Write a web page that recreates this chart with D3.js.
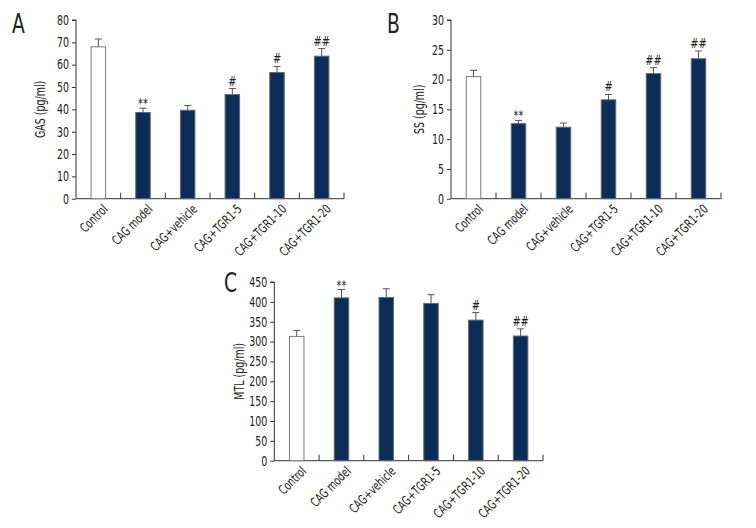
<!DOCTYPE html>
<html>
<head>
<meta charset="utf-8">
<script src="https://cdn.jsdelivr.net/npm/d3@7"></script>
<style>
  html, body { margin: 0; padding: 0; background: #fff; }
  svg text { font-family: "Liberation Sans Narrow", "DejaVu Sans Condensed", "Roboto Condensed", sans-serif; fill: #222; }
</style>
</head>
<body>
<svg id="chart" width="756" height="528"></svg>
<script>
const categories = ["Control", "CAG model", "CAG+vehicle", "CAG+TGR1-5", "CAG+TGR1-10", "CAG+TGR1-20"];

const gasValues = [68.0, 38.6, 39.6, 46.6, 56.5, 63.8];
const gasErrors = [3.5, 1.9, 2.1, 2.7, 2.7, 3.4];
const gasMarks  = ["", "**", "", "#", "#", "##"];
const gasTicks  = [0, 10, 20, 30, 40, 50, 60, 70, 80];

const ssValues = [20.5, 12.6, 12.0, 16.6, 21.0, 23.5];
const ssErrors = [1.05, 0.55, 0.7, 0.9, 1.0, 1.3];
const ssMarks  = ["", "**", "", "#", "##", "##"];
const ssTicks  = [0, 5, 10, 15, 20, 25, 30];

const mtlValues = [313, 410, 411, 396, 354, 314];
const mtlErrors = [15, 21, 22, 22, 19, 18];
const mtlMarks  = ["", "**", "", "", "#", "##"];
const mtlTicks  = [0, 50, 100, 150, 200, 250, 300, 350, 400, 450];

const SX = 0.78; // horizontal compression to mimic a condensed face

const svg = d3.select("#chart");

function drawPanel(opt) {
  const g = svg.append("g");
  const x = d3.scaleBand().domain(categories).range([opt.x0, opt.x1]);
  const y = d3.scaleLinear().domain([0, opt.max]).range([opt.y0, opt.y1]);
  const barW = 14.5;

  // y axis
  const yAxis = d3.axisLeft(y).tickValues(opt.ticks).tickSize(4).tickPadding(3);
  const ya = g.append("g").attr("transform", `translate(${opt.x0},0)`).call(yAxis);
  ya.selectAll("path, line").attr("stroke", "#333").attr("stroke-width", 1);
  ya.select(".domain").attr("d", `M-4,${opt.y1}H0V${opt.y0}`);
  ya.selectAll("text")
    .attr("x", 0)
    .attr("transform", `translate(-7,0) scale(${SX},1)`)
    .style("font-size", "13.5px").attr("fill", "#222");

  // x axis line with inward ticks at band boundaries
  g.append("line").attr("x1", opt.x0).attr("x2", opt.x1)
    .attr("y1", opt.y0).attr("y2", opt.y0).attr("stroke", "#333");
  g.selectAll("line.xt").data(categories).enter().append("line")
    .attr("class", "xt")
    .attr("x1", d => x(d) + x.bandwidth()).attr("x2", d => x(d) + x.bandwidth())
    .attr("y1", opt.y0).attr("y2", opt.y0 - 6).attr("stroke", "#333");

  // bars
  g.selectAll("rect.bar").data(opt.values).enter().append("rect")
    .attr("class", "bar")
    .attr("x", (d, i) => x(categories[i]) + x.bandwidth() / 2 - barW / 2)
    .attr("y", d => y(d))
    .attr("width", barW)
    .attr("height", d => opt.y0 - y(d))
    .attr("fill", (d, i) => i === 0 ? "#ffffff" : "#0c2d58")
    .attr("stroke", (d, i) => i === 0 ? "#7a7a7a" : "#5f6b7a")
    .attr("stroke-width", 1);

  // error bars
  opt.values.forEach((v, i) => {
    const cx = x(categories[i]) + x.bandwidth() / 2;
    const top = y(v + opt.errors[i]);
    g.append("line").attr("x1", cx).attr("x2", cx).attr("y1", y(v)).attr("y2", top)
      .attr("stroke", "#555").attr("stroke-width", 1);
    g.append("line").attr("x1", cx - 3.5).attr("x2", cx + 3.5).attr("y1", top).attr("y2", top)
      .attr("stroke", "#555").attr("stroke-width", 1);
    if (opt.marks[i]) {
      const isStar = opt.marks[i].indexOf("*") >= 0;
      g.append("text")
        .attr("transform", `translate(${cx},${top - (isStar ? 0 : 3)}) scale(${SX},1)`)
        .attr("text-anchor", "middle")
        .style("font-size", "14px")
        .attr("fill", isStar ? "#444" : "#222")
        .text(opt.marks[i]);
    }
  });

  // category labels
  categories.forEach(c => {
    const cx = x(c) + x.bandwidth() / 2 + 7;
    const cy = opt.y0 + 8;
    g.append("text")
      .attr("transform", `translate(${cx},${cy}) rotate(-45) scale(${SX},1)`)
      .attr("text-anchor", "end")
      .attr("dy", "0.35em")
      .style("font-size", "13px")
      .text(c);
  });

  // y label
  g.append("text")
    .attr("transform", `translate(${opt.ylabX},${(opt.y0 + opt.y1) / 2}) rotate(-90) scale(${SX},1)`)
    .attr("text-anchor", "middle")
    .attr("dy", "0.35em")
    .style("font-size", "13.5px")
    .text(opt.ylabel);

  // panel letter
  g.append("text")
    .attr("transform", `translate(${opt.lx},${opt.ly}) scale(0.8,1)`)
    .style("font-size", "26px")
    .text(opt.letter);
}

drawPanel({ x0: 76, x1: 344, y0: 198.7, y1: 20, max: 80, ticks: gasTicks,
  values: gasValues, errors: gasErrors, marks: gasMarks,
  ylabel: "GAS (pg/ml)", ylabX: 40, letter: "A", lx: 12, ly: 33 });

drawPanel({ x0: 451, x1: 721, y0: 198.7, y1: 20, max: 30, ticks: ssTicks,
  values: ssValues, errors: ssErrors, marks: ssMarks,
  ylabel: "SS (pg/ml)", ylabX: 419, letter: "B", lx: 387, ly: 33 });

drawPanel({ x0: 274.3, x1: 543, y0: 460.7, y1: 282, max: 450, ticks: mtlTicks,
  values: mtlValues, errors: mtlErrors, marks: mtlMarks,
  ylabel: "MTL (pg/ml)", ylabX: 239, letter: "C", lx: 224, ly: 292 });
</script>
</body>
</html>
